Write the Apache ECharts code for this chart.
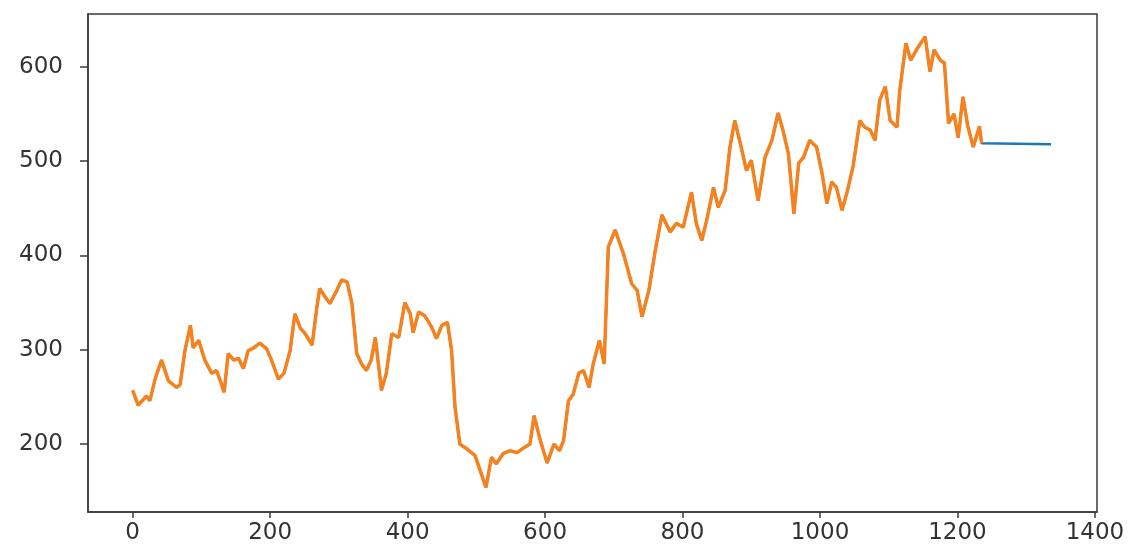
<!DOCTYPE html>
<html>
<head>
<meta charset="utf-8">
<script src="https://cdn.jsdelivr.net/npm/echarts@6/dist/echarts.min.js"></script>
<style>
  html, body { margin: 0; padding: 0; background: #fff; }
  #main { width: 1130px; height: 552px; }
</style>
</head>
<body>
<div id="main"></div>
<script>
// x positions (index)
var stepX = [
  0, 8, 20, 25, 33, 42, 52, 64, 69, 76, 84, 88, 96, 105, 115, 122, 127, 133, 139, 147,
  154, 161, 168, 176, 185, 195, 202, 212, 220, 229, 236, 244, 251, 261, 268, 272, 280, 287, 297, 304,
  312, 319, 326, 333, 340, 347, 353, 362, 369, 377, 387, 396, 404, 408, 416, 425, 435, 442, 450, 458,
  464, 469, 476, 486, 498, 507, 514, 522, 529, 539, 549, 559, 569, 578, 584, 593, 603, 613, 621, 627,
  634, 641, 649, 656, 664, 670, 679, 686, 692, 702, 714, 726, 734, 741, 751, 760, 770, 782, 791, 801,
  813, 820, 828, 835, 845, 852, 862, 869, 876, 884, 893, 900, 910, 920, 930, 939, 946, 954, 962, 969,
  976, 985, 995, 1003, 1010, 1017, 1024, 1032, 1039, 1048, 1058, 1065, 1073, 1080, 1087, 1095, 1102, 1112, 1116, 1125,
  1132, 1142, 1153, 1160, 1166, 1175, 1181, 1187, 1195, 1201, 1208, 1215, 1223, 1232, 1235
]
// orange series values
var actual = [
  257, 241, 251, 246, 270, 289, 267, 260, 263, 299, 326, 302, 310, 289, 275, 278, 268, 255, 296, 289,
  291, 280, 299, 302, 307, 301, 289, 269, 275, 299, 338, 323, 317, 305, 345, 365, 356, 349, 363, 374,
  372, 349, 296, 285, 278, 289, 313, 257, 275, 317, 313, 350, 338, 318, 340, 336, 324, 312, 326, 329,
  299, 239, 200, 195, 188, 169, 154, 186, 179, 190, 193, 191, 196, 200, 230, 204, 180, 200, 193, 204,
  246, 253, 275, 278, 260, 285, 310, 285, 409, 427, 402, 370, 363, 335, 363, 404, 443, 425, 434, 430,
  467, 434, 416, 437, 472, 451, 469, 515, 543, 519, 490, 501, 458, 504, 522, 551, 533, 508, 444, 498,
  504, 522, 515, 487, 455, 478, 472, 448, 466, 494, 543, 536, 533, 522, 565, 579, 543, 536, 575, 625,
  607, 620, 632, 595, 618, 607, 604, 540, 550, 525, 568, 537, 515, 537, 519
]
// flat blue tail
var tailX = [1236, 1336]
var tailY = [518, 518]

var xTicks = [0, 200, 400, 600, 800, 1000, 1200, 1400]
var yTicks = [200, 300, 400, 500, 600]

var orangeData = stepX.map(function (x, i) { return [x, actual[i]] })
var blueData = orangeData.concat(tailX.map(function (x, i) { return [x, tailY[i]] }))

var myChart = echarts.init(document.getElementById('main'))
var axisColor = '#3a3a3a'
var labelStyle = {
  fontFamily: 'DejaVu Sans',
  fontSize: 23,
  color: '#333',
  formatter: function (v) { return String(v) }
}

myChart.setOption({
  animation: false,
  grid: {
    left: 88,
    right: 33,
    top: 14,
    bottom: 40,
    show: true,
    borderColor: axisColor,
    borderWidth: 1.5,
    backgroundColor: '#fff'
  },
  xAxis: {
    type: 'value',
    min: -65,
    max: 1403,
    splitLine: { show: false },
    axisLine: { onZero: false, lineStyle: { color: axisColor, width: 1.5 } },
    axisTick: { customValues: xTicks, length: 6, lineStyle: { color: axisColor, width: 1.5 } },
    axisLabel: Object.assign({ customValues: xTicks, margin: 10 }, labelStyle)
  },
  yAxis: {
    type: 'value',
    min: 128,
    max: 656,
    splitLine: { show: false },
    axisLine: { show: true, onZero: false, lineStyle: { color: axisColor, width: 1.5 } },
    axisTick: { show: true, customValues: yTicks, length: 8, lineStyle: { color: axisColor, width: 1.5 } },
    axisLabel: Object.assign({ customValues: yTicks, margin: 25 }, labelStyle)
  },
  series: [
    {
      type: 'line',
      data: blueData,
      showSymbol: false,
      lineStyle: { color: '#1f77b4', width: 2.5 },
      z: 2
    },
    {
      type: 'line',
      data: orangeData,
      showSymbol: false,
      lineStyle: { color: '#f5821f', width: 3.5 },
      z: 3
    }
  ]
})
</script>
</body>
</html>
